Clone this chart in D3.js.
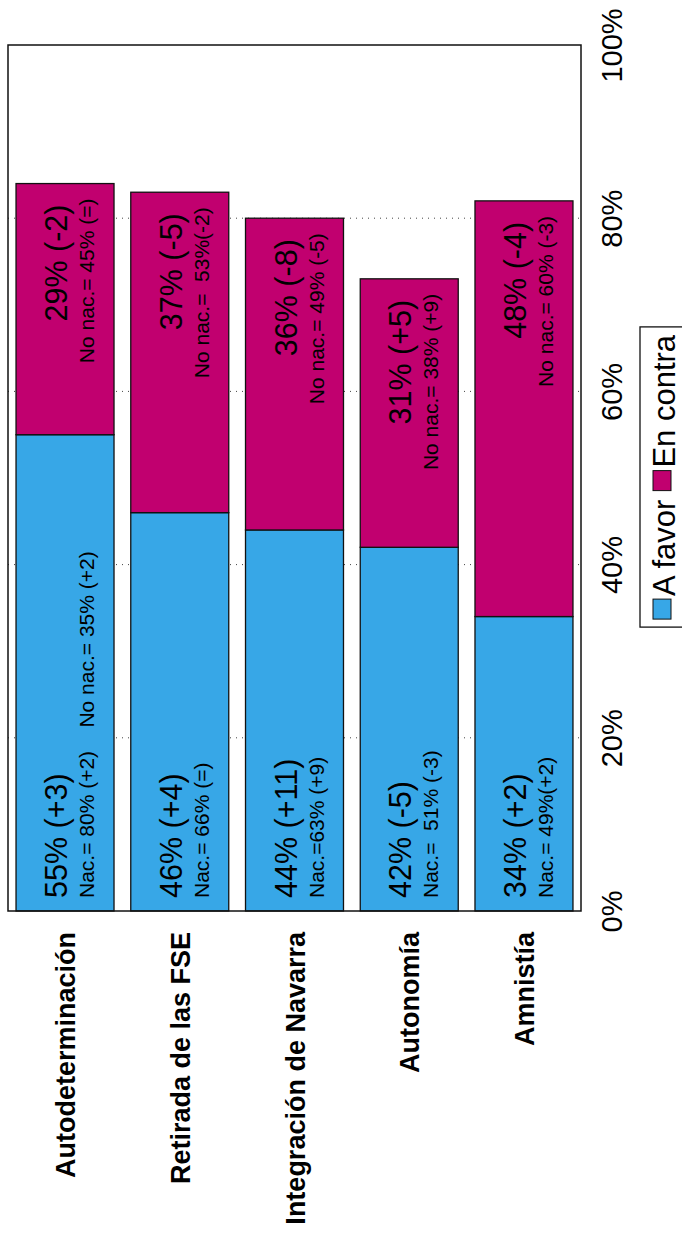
<!DOCTYPE html>
<html>
<head>
<meta charset="utf-8">
<script src="https://cdn.jsdelivr.net/npm/d3@7"></script>
<style>
  html, body { margin: 0; padding: 0; background: #fff; }
  svg { display: block; font-family: "Liberation Sans", Arial, sans-serif; }
  text { white-space: pre; }
</style>
</head>
<body>
<svg id="chart" width="682" height="1233"></svg>
<script>
// ---- data ----
const categories = ["Autodeterminación", "Retirada de las FSE", "Integración de Navarra", "Autonomía", "Amnistía"];
const favor = [55, 46, 44, 42, 34];
const contra = [29, 37, 36, 31, 48];
const favorLabels = ["55% (+3)", "46% (+4)", "44% (+11)", "42% (-5)", "34% (+2)"];
const favorSub = ["Nac.= 80% (+2)    No nac.= 35% (+2)", "Nac.= 66% (=)", "Nac.=63% (+9)", "Nac.=  51% (-3)", "Nac.= 49%(+2)"];
const contraLabels = ["29% (-2)", "37% (-5)", "36% (-8)", "31% (+5)", "48% (-4)"];
const contraSub = ["No nac.= 45% (=)", "No nac.=  53%(-2)", "No nac.= 49% (-5)", "No nac.= 38% (+9)", "No nac.= 60% (-3)"];
const tickValues = [0, 20, 40, 60, 80, 100];
const seriesNames = ["A favor", "En contra"];
const colors = ["#37A7E7", "#C1006F"];

// ---- layout ----
const svg = d3.select("#chart");
const pL = 8, pR = 581, pT = 45, pB = 911;

const x = d3.scaleBand().domain(categories).range([pL, pR])
  .paddingInner(0.146).paddingOuter(0.07);
const y = d3.scaleLinear().domain([0, 100]).range([pB, pT]);

// gridlines
svg.append("g").selectAll("line")
  .data(tickValues.filter(d => d > 0 && d < 100))
  .join("line")
  .attr("x1", pL).attr("x2", pR)
  .attr("y1", d => y(d)).attr("y2", d => y(d))
  .attr("stroke", "#444").attr("stroke-width", 1)
  .attr("stroke-dasharray", "1,5");

// stacked data
const rows = categories.map((c, i) => ({ cat: c, favor: favor[i], contra: contra[i] }));
const stack = d3.stack().keys(["favor", "contra"])(rows);

svg.append("g").selectAll("g")
  .data(stack)
  .join("g")
  .attr("fill", (d, i) => colors[i])
  .selectAll("rect")
  .data(d => d)
  .join("rect")
  .attr("x", d => x(d.data.cat))
  .attr("width", x.bandwidth())
  .attr("y", d => y(d[1]))
  .attr("height", d => y(d[0]) - y(d[1]))
  .attr("stroke", "#111").attr("stroke-width", 1.3);

// frame
svg.append("rect")
  .attr("x", pL).attr("y", pT)
  .attr("width", pR - pL).attr("height", pB - pT)
  .attr("fill", "none").attr("stroke", "#111").attr("stroke-width", 1.5);

// value axis (rotated labels on the right)
const axis = svg.append("g")
  .attr("transform", `translate(${pR},0)`)
  .call(d3.axisRight(y).tickValues(tickValues).tickFormat(d => d + "%").tickSize(0));
axis.select(".domain").remove();
axis.selectAll("text")
  .attr("x", null).attr("dy", null).attr("y", null)
  .attr("transform", "translate(41,0) rotate(-90)")
  .attr("text-anchor", "middle")
  .attr("font-size", 29)
  .attr("font-family", "Liberation Sans, Arial, sans-serif")
  .attr("fill", "#000");

// category labels
svg.append("g").selectAll("text")
  .data(categories)
  .join("text")
  .attr("transform", d => `translate(${x(d) + x.bandwidth() / 2 + 10},${pB + 21}) rotate(-90)`)
  .attr("text-anchor", "end")
  .attr("font-size", 27)
  .attr("font-weight", "bold")
  .text(d => d);

// data labels
const lab = svg.append("g");
categories.forEach((c, i) => {
  const bx = x(c);
  const y0 = y(0), yTop = y(favor[i] + contra[i]);
  lab.append("text")
    .attr("transform", `translate(${bx + 51},${y0 - 13}) rotate(-90)`)
    .attr("font-size", 30.5).text(favorLabels[i]);
  lab.append("text")
    .attr("transform", `translate(${bx + 78},${y0 - 13}) rotate(-90)`)
    .attr("font-size", 21).text(favorSub[i]);
  lab.append("text")
    .attr("transform", `translate(${bx + 51},${yTop + 21}) rotate(-90)`)
    .attr("text-anchor", "end")
    .attr("font-size", 30.5).text(contraLabels[i]);
  lab.append("text")
    .attr("transform", `translate(${bx + 78},${yTop + 15}) rotate(-90)`)
    .attr("text-anchor", "end")
    .attr("font-size", 21).text(contraSub[i]);
});

// legend (rotated, centred on plot)
const leg = svg.append("g");
const legFont = 31, sq = 20, gapSq = 3, gapItem = 9;
const tw = seriesNames.map(n => {
  const t = leg.append("text").attr("font-size", legFont).text(n);
  const w = t.node().getComputedTextLength();
  t.remove();
  return w;
});
const total = seriesNames.reduce((s, n, i) => s + sq + gapSq + tw[i], 0) + gapItem;
const midY = (pT + pB) / 2 - 1;
let cur = midY + total / 2;
leg.append("rect")
  .attr("x", 640).attr("y", midY - total / 2 - 8)
  .attr("width", 80).attr("height", total + 16)
  .attr("fill", "none").attr("stroke", "#111").attr("stroke-width", 1.3);
seriesNames.forEach((n, i) => {
  leg.append("rect")
    .attr("x", 653).attr("y", cur - sq)
    .attr("width", 18).attr("height", sq)
    .attr("fill", colors[i]).attr("stroke", "#111").attr("stroke-width", 1);
  cur -= sq + gapSq;
  leg.append("text")
    .attr("transform", `translate(675,${cur}) rotate(-90)`)
    .attr("font-size", legFont).text(n);
  cur -= tw[i] + gapItem;
});
</script>
</body>
</html>
